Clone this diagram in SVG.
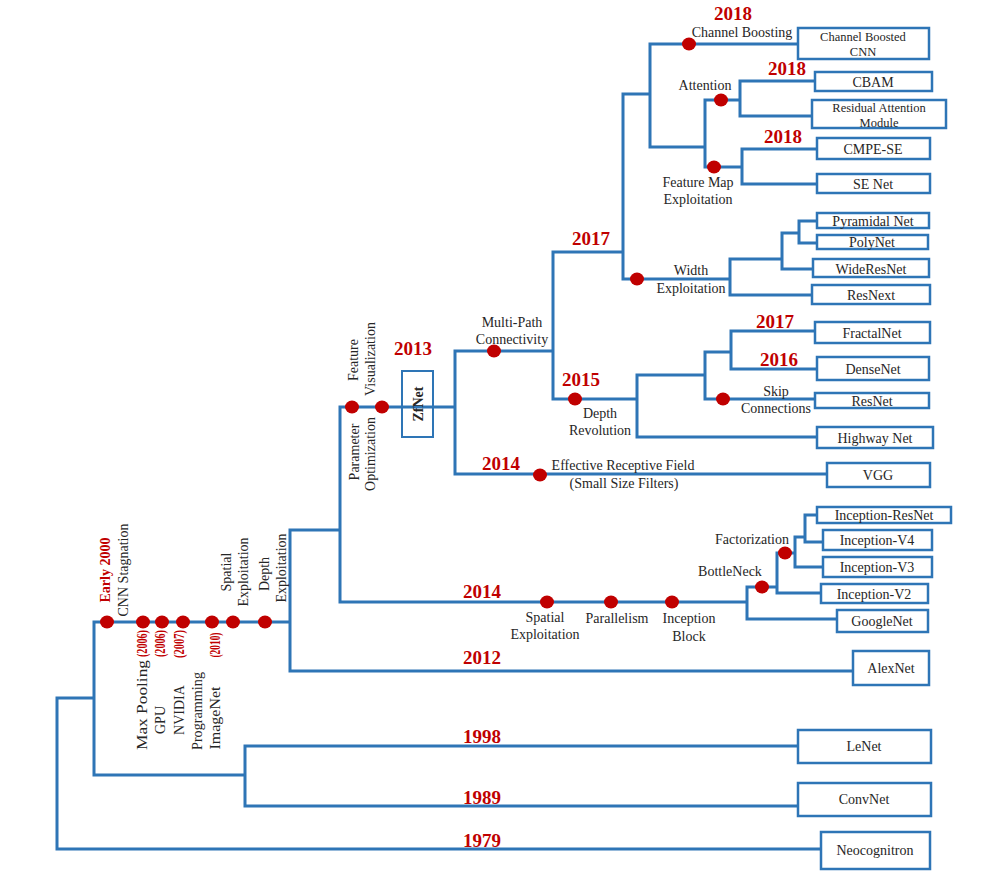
<svg xmlns="http://www.w3.org/2000/svg" width="993" height="872" viewBox="0 0 993 872">
<style>
.c{stroke:#2e75b6;stroke-width:3;fill:none;stroke-linejoin:miter}
.b{stroke:#2e75b6;stroke-width:2.5;fill:#fff}
.bn{stroke:#2e75b6;stroke-width:2;fill:none}
.t{font-family:"Liberation Serif","Times New Roman",serif;font-size:14px;fill:#262626;text-anchor:middle}
.s{font-size:12.5px}
.y{font-family:"Liberation Serif","Times New Roman",serif;font-size:19px;font-weight:bold;fill:#c00000;text-anchor:middle}
.yr{font-family:"Liberation Serif","Times New Roman",serif;font-size:14px;font-weight:bold;fill:#c00000;text-anchor:middle}
.d{fill:#c00000}
</style>
<rect width="993" height="872" fill="#fff"/>
<g id="connectors">
<path class="c" d="M822,849 H57 V698 H94"/>
<path class="c" d="M290,622 H94 V775 H245"/>
<path class="c" d="M798,746 H245 V806 H798"/>
<path class="c" d="M340,530 H290 V671 H853"/>
<path class="c" d="M455,407 H340 V602 H747"/>
<path class="c" d="M837,619 H747 V587 H777"/>
<path class="c" d="M821,593 H777 V553 H795"/>
<path class="c" d="M823,567 H795 V537 H805"/>
<path class="c" d="M817,515 H805 V542 H823"/>
<path class="c" d="M553,351 H455 V474 H827"/>
<path class="c" d="M623,252 H553 V399 H637"/>
<path class="c" d="M817,437 H637 V375 H705"/>
<path class="c" d="M815,399 H705 V352 H731"/>
<path class="c" d="M815,331 H731 V369 H817"/>
<path class="c" d="M650,94 H623 V279 H730"/>
<path class="c" d="M812,295 H730 V259 H782"/>
<path class="c" d="M813,269 H782 V233 H799"/>
<path class="c" d="M817,221 H799 V243 H817"/>
<path class="c" d="M798,44 H650 V147 H705"/>
<path class="c" d="M742,167 H705 V100 H740"/>
<path class="c" d="M815,81 H740 V116 H812"/>
<path class="c" d="M817,149 H742 V184 H817"/>
</g>
<g id="dots">
<ellipse class="d" cx="107" cy="622" rx="7" ry="6.5"/>
<ellipse class="d" cx="143" cy="622" rx="7" ry="6.5"/>
<ellipse class="d" cx="162" cy="622" rx="7" ry="6.5"/>
<ellipse class="d" cx="183" cy="622" rx="7" ry="6.5"/>
<ellipse class="d" cx="212" cy="622" rx="7" ry="6.5"/>
<ellipse class="d" cx="233" cy="622" rx="7" ry="6.5"/>
<ellipse class="d" cx="265" cy="622" rx="7" ry="6.5"/>
<ellipse class="d" cx="352" cy="407" rx="7" ry="6.5"/>
<ellipse class="d" cx="382" cy="407" rx="7" ry="6.5"/>
<ellipse class="d" cx="494" cy="351" rx="7" ry="6.5"/>
<ellipse class="d" cx="540" cy="475" rx="7" ry="6.5"/>
<ellipse class="d" cx="575" cy="399" rx="7" ry="6.5"/>
<ellipse class="d" cx="723" cy="399" rx="7" ry="6.5"/>
<ellipse class="d" cx="637" cy="279" rx="7" ry="6.5"/>
<ellipse class="d" cx="689" cy="44" rx="7" ry="6.5"/>
<ellipse class="d" cx="721" cy="100" rx="7" ry="6.5"/>
<ellipse class="d" cx="714" cy="167" rx="7" ry="6.5"/>
<ellipse class="d" cx="547" cy="602" rx="7" ry="6.5"/>
<ellipse class="d" cx="611" cy="602" rx="7" ry="6.5"/>
<ellipse class="d" cx="672" cy="602" rx="7" ry="6.5"/>
<ellipse class="d" cx="762" cy="587" rx="7" ry="6.5"/>
<ellipse class="d" cx="785" cy="553" rx="7" ry="6.5"/>
</g>
<g id="labels">
<text class="t" x="742" y="37">Channel Boosting</text>
<text class="t" x="705" y="90">Attention</text>
<text class="t" x="698" y="187">Feature Map</text>
<text class="t" x="698" y="204">Exploitation</text>
<text class="t" x="691" y="275">Width</text>
<text class="t" x="691" y="293">Exploitation</text>
<text class="t" x="512" y="327">Multi-Path</text>
<text class="t" x="512" y="344">Connectivity</text>
<text class="t" x="600" y="418">Depth</text>
<text class="t" x="600" y="435">Revolution</text>
<text class="t" x="776" y="396">Skip</text>
<text class="t" x="776" y="413">Connections</text>
<text class="t" x="623" y="470">Effective Receptive Field</text>
<text class="t" x="624" y="488">(Small Size Filters)</text>
<text class="t" x="545" y="622">Spatial</text>
<text class="t" x="545" y="639">Exploitation</text>
<text class="t" x="617" y="623">Parallelism</text>
<text class="t" x="689" y="623">Inception</text>
<text class="t" x="689" y="641">Block</text>
<text class="t" x="752" y="544">Factorization</text>
<text class="t" x="730" y="576">BottleNeck</text>
<text class="t" transform="translate(358,360) rotate(-90)">Feature</text>
<text class="t" transform="translate(375,359) rotate(-90)">Visualization</text>
<text class="t" transform="translate(359,452) rotate(-90)">Parameter</text>
<text class="t" transform="translate(375,454) rotate(-90)">Optimization</text>
<text class="yr" transform="translate(110,570) rotate(-90)">Early 2000</text>
<text class="t" transform="translate(128,570) rotate(-90)">CNN Stagnation</text>
<text class="t" transform="translate(231,572) rotate(-90)">Spatial</text>
<text class="t" transform="translate(248,572) rotate(-90)">Exploitation</text>
<text class="t" transform="translate(269,574) rotate(-90)">Depth</text>
<text class="t" transform="translate(286,568) rotate(-90)">Exploitation</text>
<text class="yr" transform="translate(147,643.5) rotate(-90)" textLength="27" lengthAdjust="spacingAndGlyphs">(2006)</text>
<text class="t" transform="translate(147,705) rotate(-90)" textLength="90" lengthAdjust="spacingAndGlyphs">Max Pooling</text>
<text class="yr" transform="translate(165,643.5) rotate(-90)" textLength="27" lengthAdjust="spacingAndGlyphs">(2006)</text>
<text class="t" transform="translate(165,720) rotate(-90)">GPU</text>
<text class="yr" transform="translate(184,644) rotate(-90)" textLength="28" lengthAdjust="spacingAndGlyphs">(2007)</text>
<text class="t" transform="translate(184,710) rotate(-90)">NVIDIA</text>
<text class="t" transform="translate(202,711) rotate(-90)" textLength="78" lengthAdjust="spacingAndGlyphs">Programming</text>
<text class="yr" transform="translate(220,645) rotate(-90)" textLength="25" lengthAdjust="spacingAndGlyphs">(2010)</text>
<text class="t" transform="translate(220,718) rotate(-90)" textLength="63" lengthAdjust="spacingAndGlyphs">ImageNet</text>
</g>
<g id="years">
<text class="y" x="733" y="20">2018</text>
<text class="y" x="787" y="75">2018</text>
<text class="y" x="783" y="143">2018</text>
<text class="y" x="591" y="245">2017</text>
<text class="y" x="775" y="328">2017</text>
<text class="y" x="779" y="366">2016</text>
<text class="y" x="581" y="386">2015</text>
<text class="y" x="413" y="355">2013</text>
<text class="y" x="501" y="470">2014</text>
<text class="y" x="482" y="598">2014</text>
<text class="y" x="482" y="664">2012</text>
<text class="y" x="482" y="743">1998</text>
<text class="y" x="482" y="804">1989</text>
<text class="y" x="482" y="847">1979</text>
</g>
<g id="channel-boosted-cnn"><rect class="b" x="798" y="28" width="131" height="31"/><text class="t s" x="863" y="41">Channel Boosted</text><text class="t s" x="863" y="56">CNN</text></g>
<g id="cbam"><rect class="b" x="815" y="72" width="117" height="19"/><text class="t" x="873" y="87">CBAM</text></g>
<g id="residual-attention"><rect class="b" x="812" y="100" width="134" height="28"/><text class="t s" x="879" y="112">Residual Attention</text><text class="t s" x="879" y="127">Module</text></g>
<g id="cmpe-se"><rect class="b" x="817" y="138" width="113" height="21"/><text class="t" x="873" y="154">CMPE-SE</text></g>
<g id="se-net"><rect class="b" x="817" y="174" width="113" height="19"/><text class="t" x="873" y="189">SE Net</text></g>
<g id="pyramidal-net"><rect class="b" x="817" y="213" width="112" height="15"/><text class="t" x="873" y="226">Pyramidal Net</text></g>
<g id="polynet"><rect class="b" x="817" y="235" width="111" height="14"/><text class="t" x="872" y="247">PolyNet</text></g>
<g id="wideresnet"><rect class="b" x="813" y="259" width="116" height="18"/><text class="t" x="871" y="274">WideResNet</text></g>
<g id="resnext"><rect class="b" x="812" y="285" width="118" height="19"/><text class="t" x="871" y="300">ResNext</text></g>
<g id="fractalnet"><rect class="b" x="815" y="322" width="115" height="21"/><text class="t" x="872" y="338">FractalNet</text></g>
<g id="densenet"><rect class="b" x="817" y="357" width="112" height="23"/><text class="t" x="873" y="374">DenseNet</text></g>
<g id="resnet"><rect class="b" x="815" y="393" width="114" height="15"/><text class="t" x="872" y="406">ResNet</text></g>
<g id="highway-net"><rect class="b" x="817" y="427" width="116" height="21"/><text class="t" x="875" y="443">Highway Net</text></g>
<g id="vgg"><rect class="b" x="827" y="463" width="103" height="24"/><text class="t" x="878" y="480">VGG</text></g>
<g id="zfnet"><rect class="bn" x="402" y="371" width="31" height="66"/><text class="t" font-weight="bold" transform="translate(423,404) rotate(-90)">ZfNet</text></g>
<g id="inception-resnet"><rect class="b" x="817" y="507" width="134" height="16"/><text class="t" x="884" y="520">Inception-ResNet</text></g>
<g id="inception-v4"><rect class="b" x="823" y="530" width="109" height="20"/><text class="t" x="877" y="545">Inception-V4</text></g>
<g id="inception-v3"><rect class="b" x="823" y="557" width="109" height="20"/><text class="t" x="877" y="572">Inception-V3</text></g>
<g id="inception-v2"><rect class="b" x="821" y="584" width="107" height="19"/><text class="t" x="874" y="599">Inception-V2</text></g>
<g id="googlenet"><rect class="b" x="837" y="610" width="91" height="22"/><text class="t" x="882" y="626">GoogleNet</text></g>
<g id="alexnet"><rect class="b" x="853" y="651" width="76" height="34"/><text class="t" x="891" y="673">AlexNet</text></g>
<g id="lenet"><rect class="b" x="798" y="730" width="133" height="33"/><text class="t" x="864" y="751">LeNet</text></g>
<g id="convnet"><rect class="b" x="798" y="783" width="133" height="33"/><text class="t" x="864" y="804">ConvNet</text></g>
<g id="neocognitron"><rect class="b" x="821" y="832" width="109" height="37"/><text class="t" x="875" y="855">Neocognitron</text></g>
</svg>
